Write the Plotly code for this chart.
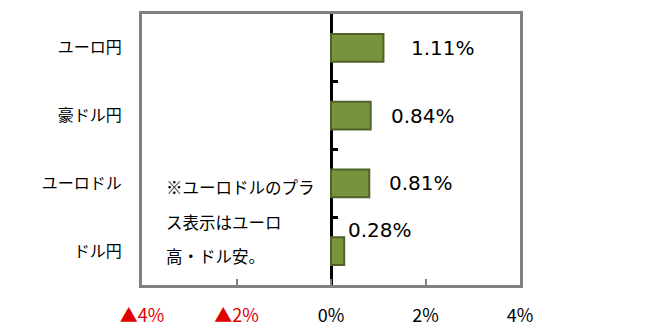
import plotly.graph_objects as go

categories = ["ドル円", "ユーロドル", "豪ドル円", "ユーロ円"]
values = [0.28, 0.81, 0.84, 1.11]
labels = ["0.28%", "0.81%", "0.84%", "1.11%"]
tick_vals = [-4, -2, 0, 2, 4]
tick_text = ["<span style='color:#E00000'>▲4%</span>",
             "<span style='color:#E00000'>▲2%</span>",
             "0%", "2%", "4%"]
note_lines = ["※ユーロドルのプラ", "ス表示はユーロ", "高・ドル安。"]

# label anchor offsets (data units) for the moved data labels
label_x = [0.32, 1.19, 1.23, 1.66]
label_dy = [0.31, 0.0, 0.0, 0.0]

fig = go.Figure()
fig.add_trace(go.Bar(
    y=categories, x=values, orientation="h",
    marker=dict(color="#77933C", line=dict(color="#4F6228", width=2)),
    width=0.41, showlegend=False, hoverinfo="skip",
))
# invisible trace carrying the zero-axis category ticks
fig.add_trace(go.Scatter(
    y=categories, x=[0] * len(categories), yaxis="y2", mode="markers",
    marker=dict(opacity=0), showlegend=False, hoverinfo="skip",
))

for i, (c, t) in enumerate(zip(categories, labels)):
    fig.add_annotation(x=label_x[i], y=i + label_dy[i], text=t, xref="x", yref="y",
                       showarrow=False, xanchor="left", yanchor="middle",
                       font=dict(family="DejaVu Sans", size=20, color="#000000"))

note_y = [0.95, 0.43, -0.07]
for ln, yy in zip(note_lines, note_y):
    fig.add_annotation(x=-3.53, y=yy, text=ln, xref="x", yref="y",
                       showarrow=False, xanchor="left", yanchor="middle",
                       font=dict(family="Noto Sans CJK JP", size=16.5, color="#000000"))

fig.update_layout(
    width=663, height=328,
    margin=dict(l=142, r=143, t=14, b=43),
    paper_bgcolor="white", plot_bgcolor="white",
    bargap=0.59,
    xaxis=dict(
        range=[-4, 4], tickvals=tick_vals, ticktext=tick_text,
        showline=True, linecolor="#808080", linewidth=3, mirror=True,
        ticks="inside", ticklen=6, tickcolor="#808080", tickwidth=2,
        showgrid=False, zeroline=True, zerolinecolor="#000000", zerolinewidth=3,
        ticklabelstandoff=12, automargin=False,
        tickfont=dict(family="Noto Sans CJK JP", size=18, color="#000000"),
        fixedrange=True,
    ),
    yaxis=dict(
        type="category", categoryorder="array", categoryarray=categories,
        range=[-0.5, 3.5],
        showline=True, linecolor="#808080", linewidth=3, mirror=True,
        ticks="", showgrid=False, ticklabelstandoff=14, automargin=False,
        tickfont=dict(family="Noto Sans CJK JP", size=16, color="#000000"),
        fixedrange=True,
    ),
    yaxis2=dict(
        type="category", categoryorder="array", categoryarray=categories,
        range=[-0.5, 3.5], overlaying="y", anchor="free", position=0.5,
        showline=False, ticks="inside", tickson="boundaries", ticklen=6,
        tickwidth=3, tickcolor="#000000", showticklabels=False, showgrid=False,
        fixedrange=True,
    ),
)

fig.write_html("out.html")
